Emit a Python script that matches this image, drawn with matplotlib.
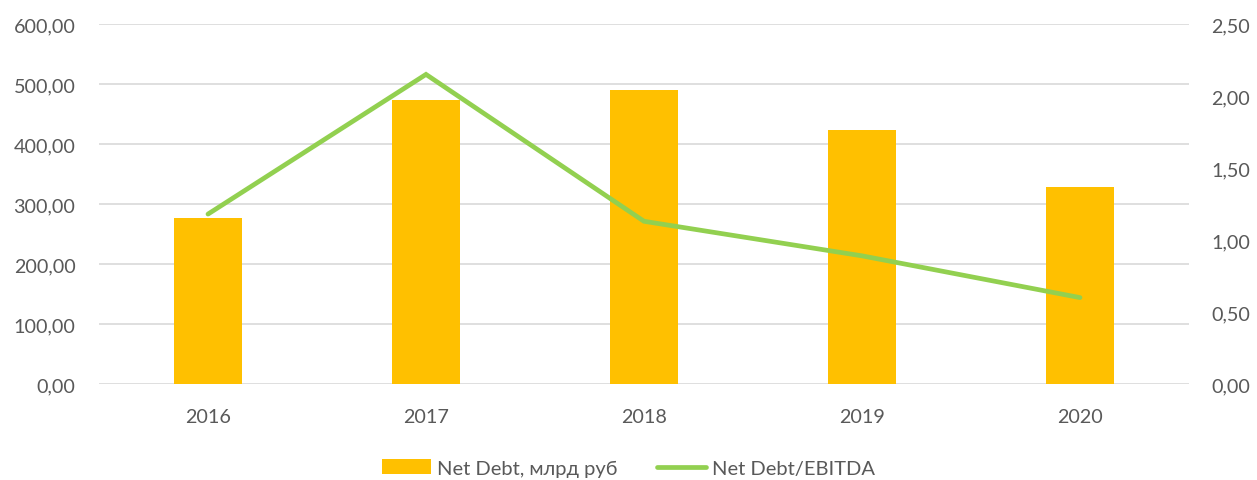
import matplotlib.pyplot as plt
from matplotlib.ticker import FuncFormatter

# Data
years = ["2016", "2017", "2018", "2019", "2020"]
net_debt = [276, 474, 490, 423, 328]
net_debt_ebitda = [1.18, 2.15, 1.13, 0.89, 0.60]

plt.rcParams['font.family'] = ['Lato', 'Noto Sans', 'DejaVu Sans']
text_color = "#595959"

fig = plt.figure(figsize=(12.57, 4.81), dpi=100)
ax = fig.add_axes([99 / 1257, 1 - 385 / 481, 1090 / 1257, 360 / 481])
ax2 = ax.twinx()

x = range(len(years))
bars = ax.bar(x, net_debt, width=0.31, color="#FFC000", zorder=2)
line, = ax2.plot(x, net_debt_ebitda, color="#92D050", linewidth=3.4,
                 solid_capstyle='round', solid_joinstyle='miter', zorder=3)

ax.set_xlim(-0.5, len(years) - 0.5)
ax.set_ylim(0, 600)
ax2.set_ylim(0, 2.5)
ax.set_yticks(range(0, 601, 100))
ax2.set_yticks([0, 0.5, 1.0, 1.5, 2.0, 2.5])

comma = FuncFormatter(lambda v, p: f"{v:.2f}".replace(".", ","))
ax.yaxis.set_major_formatter(comma)
ax2.yaxis.set_major_formatter(comma)
ax.set_xticks(list(x))
ax.set_xticklabels(years)

ax.grid(axis='y', color="#D9D9D9", linewidth=1.2, zorder=0)
ax.set_axisbelow(True)
for a in (ax, ax2):
    for s in a.spines.values():
        s.set_visible(False)
    a.tick_params(length=0, colors=text_color, labelsize=14.2)
ax.tick_params(axis='y', pad=17)
ax2.tick_params(axis='y', pad=16)
ax.tick_params(axis='x', pad=17)

fig.legend([bars, line], ["Net Debt, млрд руб", "Net Debt/EBITDA"],
           loc='center', bbox_to_anchor=(0.5, 1 - 469 / 481), ncol=2,
           frameon=False, fontsize=14.5, labelcolor=text_color,
           handlelength=2.4, handletextpad=0.3, columnspacing=2.0)

fig.savefig("out.png", dpi=100)
